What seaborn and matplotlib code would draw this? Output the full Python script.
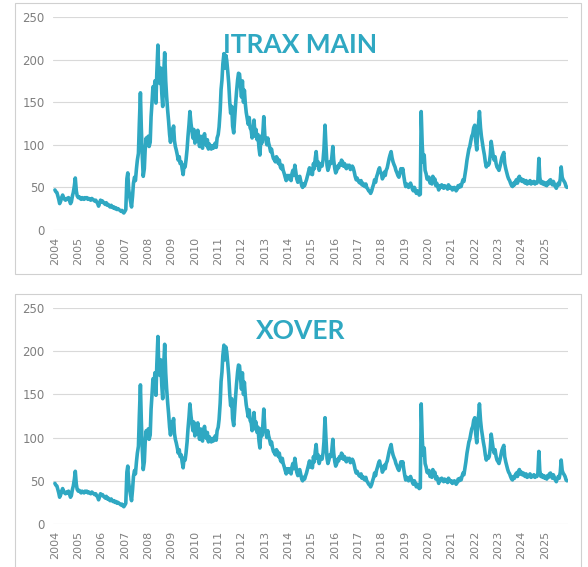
import matplotlib
matplotlib.use("Agg")
import matplotlib.pyplot as plt
import matplotlib.dates as mdates
from matplotlib.patches import Rectangle
from matplotlib.lines import Line2D
import pandas as pd
import seaborn as sns

# semi-monthly readings (1st and 15th of each month)
y2004 = [47, 45, 44, 40, 36, 31, 34, 38, 41, 38, 36, 35, 37, 36, 38, 35, 31, 33, 40, 44, 52, 61, 46, 40]
y2005 = [38, 39, 37, 36, 38, 37, 36, 38, 37, 38, 36, 37, 36, 35, 37, 36, 35, 34, 35, 33, 31, 28, 32, 35]
y2006 = [33, 34, 32, 31, 30, 32, 29, 30, 28, 27, 29, 27, 26, 27, 25, 26, 24, 25, 24, 23, 22, 23, 21, 20]
y2007 = [22, 24, 60, 67, 48, 40, 33, 27, 40, 55, 62, 58, 72, 82, 90, 125, 161, 120, 85, 63, 72, 95, 108, 100]
y2008 = [110, 98, 103, 133, 150, 168, 160, 175, 149, 185, 217, 180, 172, 190, 160, 145, 185, 208, 175, 157, 140, 128, 112, 103]
y2009 = [118, 110, 122, 105, 98, 94, 88, 82, 86, 78, 80, 72, 65, 76, 74, 82, 95, 110, 124, 139, 125, 117, 108, 118]
y2010 = [102, 112, 104, 117, 105, 98, 110, 98, 96, 108, 113, 104, 99, 106, 95, 101, 97, 95, 99, 96, 98, 102, 97, 108]
y2011 = [112, 121, 140, 165, 176, 195, 207, 190, 205, 199, 185, 172, 150, 137, 145, 122, 114, 130, 148, 162, 176, 184, 183, 170]
y2012 = [156, 175, 150, 164, 148, 138, 130, 124, 132, 120, 117, 108, 116, 129, 110, 118, 106, 112, 96, 88, 110, 102, 115, 133]
y2013 = [110, 106, 100, 108, 102, 98, 92, 95, 88, 84, 82, 80, 86, 84, 78, 82, 74, 72, 76, 70, 66, 62, 58, 64]
y2014 = [60, 64, 62, 58, 66, 70, 64, 76, 68, 60, 56, 62, 63, 58, 52, 50, 54, 52, 56, 59, 64, 68, 73, 66]
y2015 = [70, 65, 78, 72, 84, 92, 76, 80, 70, 74, 78, 75, 82, 95, 123, 100, 76, 70, 74, 80, 78, 85, 98, 82]
y2016 = [72, 67, 70, 75, 73, 78, 76, 82, 80, 75, 78, 74, 72, 76, 74, 76, 71, 73, 75, 73, 68, 63, 59, 61]
y2017 = [58, 56, 55, 58, 53, 55, 52, 51, 54, 50, 48, 46, 45, 43, 46, 50, 54, 59, 56, 62, 66, 70, 73, 68]
y2018 = [66, 60, 63, 68, 64, 70, 73, 78, 84, 88, 92, 85, 80, 77, 74, 70, 67, 64, 62, 66, 72, 68, 72, 64]
y2019 = [56, 51, 54, 52, 50, 53, 55, 52, 48, 46, 50, 47, 43, 46, 44, 41, 42, 139, 100, 80, 88, 70, 66, 60]
y2020 = [59, 62, 55, 58, 54, 63, 57, 60, 52, 55, 51, 47, 52, 50, 53, 51, 49, 52, 50, 51, 48, 53, 51, 49]
y2021 = [50, 47, 48, 50, 49, 46, 48, 52, 50, 53, 51, 55, 59, 57, 65, 72, 82, 88, 95, 98, 105, 110, 113, 120]
y2022 = [123, 105, 94, 115, 125, 139, 120, 110, 102, 95, 88, 80, 74, 78, 76, 78, 88, 104, 95, 88, 82, 86, 78, 74]
y2023 = [72, 70, 75, 80, 85, 88, 91, 78, 72, 68, 63, 60, 58, 55, 52, 51, 55, 53, 57, 59, 55, 61, 63, 58]
y2024 = [60, 57, 59, 56, 55, 58, 54, 56, 55, 58, 54, 56, 55, 57, 54, 56, 55, 58, 84, 62, 55, 57, 54, 56]
y2025 = [53, 55, 52, 56, 54, 58, 59, 55, 53, 57, 54, 51, 49, 52, 55, 53, 60, 74, 62, 59, 57, 55, 51, 50]

values = (y2004 + y2005 + y2006 + y2007 + y2008 + y2009 + y2010 + y2011 + y2012 + y2013 + y2014
          + y2015 + y2016 + y2017 + y2018 + y2019 + y2020 + y2021 + y2022 + y2023 + y2024 + y2025)
dates = pd.date_range("2004-01-01", periods=len(values), freq="SMS")
df = pd.DataFrame({"date": dates, "spread": values})

titles = ["ITRAX MAIN", "XOVER"]
yticks = [0, 50, 100, 150, 200, 250]

TEAL = "#2FA8C2"
GREY = "#7F7F7F"

sns.set_theme(style="white")
plt.rcParams["font.family"] = ["DejaVu Sans"]

W, H = 588, 567
fig = plt.figure(figsize=(W / 100, H / 100), dpi=100)

# panel frames (pixel coords from top-left)
fig.add_artist(Rectangle((15 / W, 1 - 274 / H), 566 / W, 271 / H, transform=fig.transFigure,
                         fill=False, edgecolor="#D0D0D0", linewidth=0.8))
fig.add_artist(Line2D([15 / W, 15 / W, 581 / W, 581 / W], [0, 1 - 294 / H, 1 - 294 / H, 0],
                      transform=fig.transFigure, color="#D0D0D0", linewidth=0.8))

panels = [(230, 213, 0.869), (524, 216, 0.894)]
for (ybot, hgt, ty), title in zip(panels, titles):
    ax = fig.add_axes([53 / W, 1 - ybot / H, 515 / W, hgt / H])
    sns.lineplot(data=df, x="date", y="spread", ax=ax, color=TEAL, linewidth=2.6)
    ax.set_xlim(pd.Timestamp("2003-12-02"), pd.Timestamp("2025-12-31"))
    ax.set_ylim(0, 250)
    ax.set_yticks(yticks)
    ax.yaxis.grid(True, color="#D9D9D9", linewidth=0.8)
    ax.set_axisbelow(True)
    ax.xaxis.set_major_locator(mdates.YearLocator())
    ax.xaxis.set_major_formatter(mdates.DateFormatter("%Y"))
    ax.tick_params(axis="x", labelrotation=90, length=0, pad=5, labelsize=8, labelcolor=GREY)
    ax.tick_params(axis="y", length=0, pad=6, labelsize=8.5, labelcolor=GREY)
    for s in ax.spines.values():
        s.set_visible(False)
    ax.set_xlabel("")
    ax.set_ylabel("")
    ax.text(0.48, ty, title, transform=ax.transAxes, ha="center", va="center",
            fontsize=19, fontweight="bold", color=TEAL, family=["Lato", "DejaVu Sans"])

fig.savefig("out.png", dpi=100)
